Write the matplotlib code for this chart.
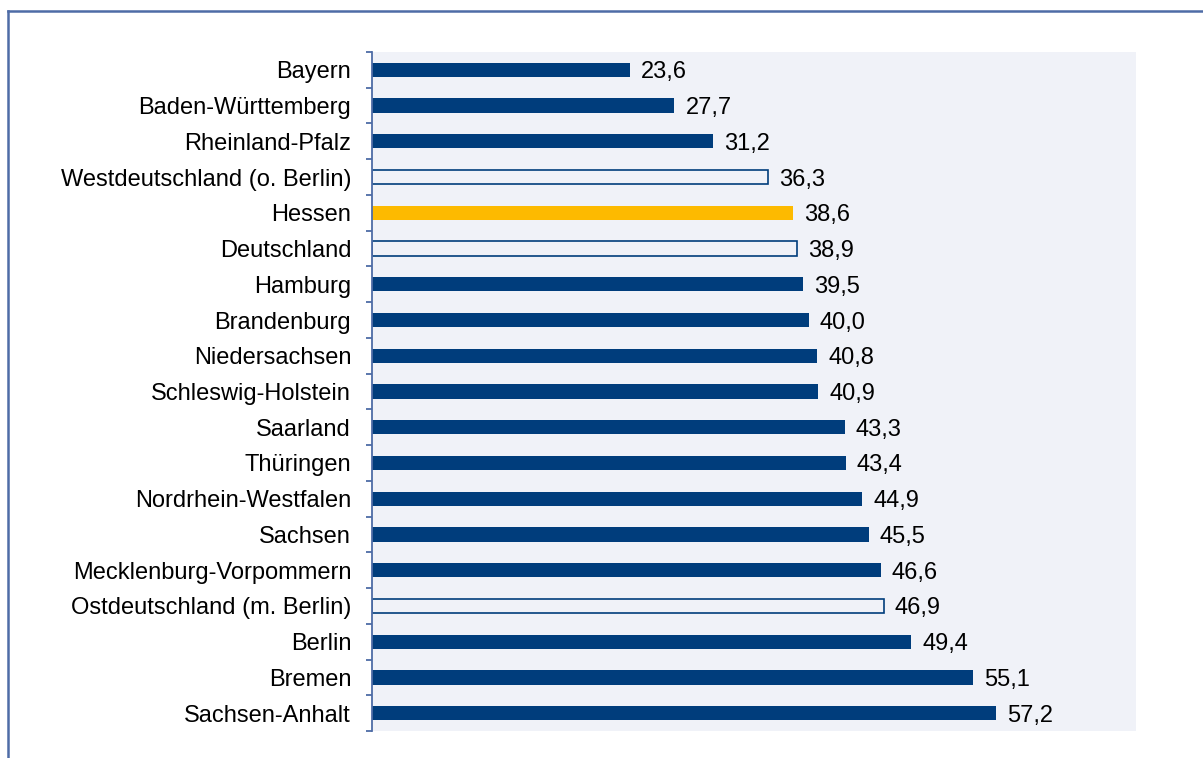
import matplotlib.pyplot as plt
from matplotlib.lines import Line2D
import numpy as np

plt.rcParams['font.family'] = ['Liberation Sans', 'DejaVu Sans']

laender = ['Bayern', 'Baden-Württemberg', 'Rheinland-Pfalz', 'Westdeutschland (o. Berlin)',
           'Hessen', 'Deutschland', 'Hamburg', 'Brandenburg', 'Niedersachsen',
           'Schleswig-Holstein', 'Saarland', 'Thüringen', 'Nordrhein-Westfalen', 'Sachsen',
           'Mecklenburg-Vorpommern', 'Ostdeutschland (m. Berlin)', 'Berlin', 'Bremen',
           'Sachsen-Anhalt']
werte = [23.6, 27.7, 31.2, 36.3, 38.6, 38.9, 39.5, 40.0, 40.8, 40.9,
         43.3, 43.4, 44.9, 45.5, 46.6, 46.9, 49.4, 55.1, 57.2]
# 'land' = filled bar, 'summe' = outline bar, 'hessen' = highlighted
art = ['land', 'land', 'land', 'summe', 'hessen', 'summe', 'land', 'land', 'land', 'land',
       'land', 'land', 'land', 'land', 'land', 'summe', 'land', 'land', 'land']

blau = '#003D7C'
gelb = '#FDBA00'
hg = '#F0F2F8'
rahmen = '#4E6CA6'

fig = plt.figure(figsize=(12.03, 7.58), dpi=100)
ax = fig.add_axes([0.3092, 0.0356, 0.9443 - 0.3092, 0.9314 - 0.0356])
ax.set_facecolor(hg)

y = np.arange(len(laender))
for i in range(len(laender)):
    if art[i] == 'summe':
        ax.barh(y[i], werte[i], height=0.4, color=hg, edgecolor=blau, linewidth=1.2)
    elif art[i] == 'hessen':
        ax.barh(y[i], werte[i], height=0.4, color=gelb, linewidth=0)
    else:
        ax.barh(y[i], werte[i], height=0.4, color=blau, linewidth=0)
    ax.annotate(f'{werte[i]:.1f}'.replace('.', ','), (werte[i], y[i]), xytext=(8, 0),
                textcoords='offset points', va='center_baseline', ha='left', fontsize=17)

ax.set_xlim(0, 70)
ax.set_ylim(len(laender) - 0.5, -0.5)
ax.set_xticks([])
ax.set_yticks(y, laender, fontsize=17)
ax.tick_params(axis='y', which='major', length=0, pad=15)
ax.set_yticks(np.arange(-0.5, len(laender)), minor=True)
ax.tick_params(axis='y', which='minor', length=4.5, width=1.3, color=rahmen, direction='out')
for s in ['top', 'right', 'bottom']:
    ax.spines[s].set_visible(False)
ax.spines['left'].set_color(rahmen)
ax.spines['left'].set_linewidth(1.3)

# outer frame (top and left edge)
fig.add_artist(Line2D([8 / 1203, 1], [1 - 11 / 758, 1 - 11 / 758], transform=fig.transFigure,
                      color=rahmen, linewidth=1.8))
fig.add_artist(Line2D([8 / 1203, 8 / 1203], [0, 1 - 11 / 758], transform=fig.transFigure,
                      color=rahmen, linewidth=1.8))

plt.savefig('out.png', dpi=100)
